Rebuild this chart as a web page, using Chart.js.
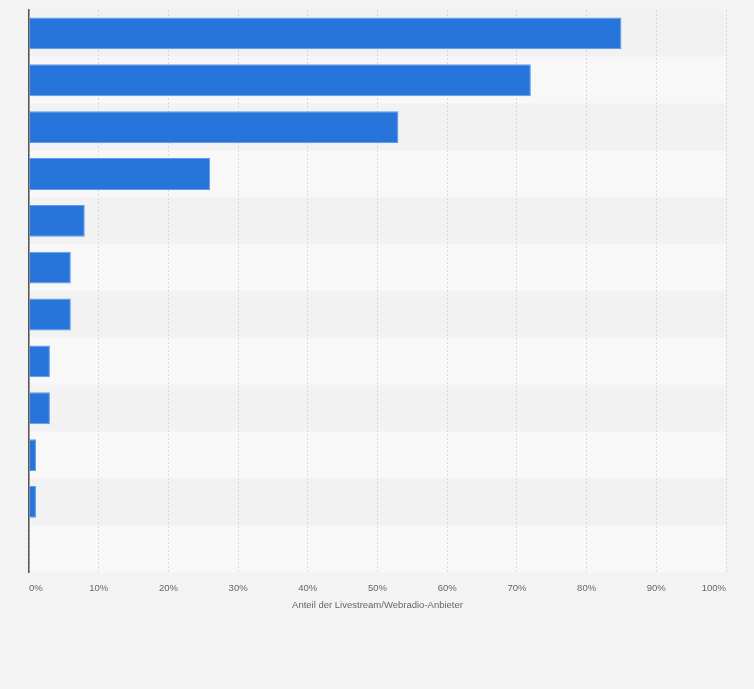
<!DOCTYPE html>
<html>
<head>
<meta charset="utf-8">
<script src="https://cdn.jsdelivr.net/npm/chart.js@4"></script>
<style>
html,body{margin:0;padding:0;background:#f3f3f3;}
#wrap{width:754px;height:689px;position:relative;}
</style>
</head>
<body>
<div id="wrap"><canvas id="c"></canvas></div>
<script>
const categories = ['', '', '', '', '', '', '', '', '', '', '', ''];
const shares = [85, 72, 53, 26, 8, 6, 6, 3, 3, 1, 1, null];
const xTicks = ['0%', '10%', '20%', '30%', '40%', '50%', '60%', '70%', '80%', '90%', '100%'];
const xTitle = 'Anteil der Livestream/Webradio-Anbieter';

const bands = {
  id: 'bands',
  beforeDraw(chart) {
    const {ctx, chartArea, scales} = chart;
    const y = scales.y;
    const n = categories.length;
    const step = (chartArea.bottom - chartArea.top) / n;
    ctx.save();
    for (let i = 0; i < n; i++) {
      const c = y.getPixelForValue(i);
      ctx.fillStyle = i % 2 === 0 ? '#f2f2f2' : '#f8f8f8';
      ctx.fillRect(chartArea.left, c - step / 2, chartArea.right - chartArea.left, step);
    }
    ctx.restore();
  }
};

new Chart(document.getElementById('c'), {
  type: 'bar',
  data: {
    labels: categories,
    datasets: [{
      data: shares,
      backgroundColor: '#2775db',
      borderColor: '#5c9be9',
      borderWidth: 1,
      categoryPercentage: 0.68,
      barPercentage: 1
    }]
  },
  options: {
    indexAxis: 'y',
    responsive: true,
    maintainAspectRatio: false,
    animation: false,
    layout: {padding: {left: 29, right: 28, top: 10, bottom: 78}},
    plugins: {legend: {display: false}, tooltip: {enabled: false}},
    scales: {
      x: {
        min: 0, max: 100,
        ticks: {
          stepSize: 10,
          align: 'inner',
          color: '#666',
          font: {family: 'Arial, Liberation Sans, sans-serif', size: 9.5},
          padding: 10,
          callback: (v, i) => xTicks[i]
        },
        grid: {color: '#d9d9d9', lineWidth: 1, drawTicks: false},
        border: {display: false, dash: [2, 2]},
        title: {
          display: true, text: xTitle, color: '#666',
          font: {family: 'Arial, Liberation Sans, sans-serif', size: 9.5},
          padding: {top: -4, bottom: 0}
        }
      },
      y: {
        ticks: {display: false},
        grid: {display: false, drawTicks: false},
        border: {display: true, color: '#555', width: 1.5}
      }
    }
  },
  plugins: [bands]
});
</script>
</body>
</html>
